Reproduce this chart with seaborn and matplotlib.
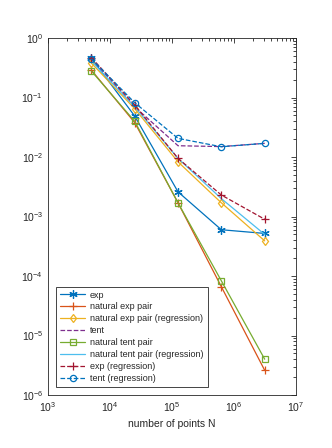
import matplotlib
matplotlib.use("Agg")
import matplotlib.pyplot as plt
import seaborn as sns
import numpy as np
from matplotlib.ticker import LogLocator, NullFormatter

# data
n_points = [5000, 25000, 125000, 625000, 3125000]

exp_err = [0.46, 0.049, 0.0026, 6.0e-4, 5.2e-4]
nat_exp_pair = [0.29, 0.038, 0.0017, 6.6e-5, 2.6e-6]
nat_exp_pair_reg = [0.38, 0.065, 0.0083, 1.7e-3, 3.9e-4]
tent_err = [0.45, 0.07, 0.0155, 0.015, 0.017]
nat_tent_pair = [0.28, 0.040, 0.0017, 8.3e-5, 4.0e-6]
nat_tent_pair_reg = [0.41, 0.07, 0.0095, 2.0e-3, 5.0e-4]
exp_reg = [0.47, 0.075, 0.0095, 2.3e-3, 9.0e-4]
tent_reg = [0.45, 0.082, 0.0206, 0.0149, 0.017]

series = [
    ("exp", exp_err, "#0072BD", (6, 2, 0), "-"),
    ("natural exp pair", nat_exp_pair, "#D95319", "+", "-"),
    ("natural exp pair (regression)", nat_exp_pair_reg, "#EDB120", "d", "-"),
    ("tent", tent_err, "#7E2F8E", None, "--"),
    ("natural tent pair", nat_tent_pair, "#77AC30", "s", "-"),
    ("natural tent pair (regression)", nat_tent_pair_reg, "#4DBEEE", None, "-"),
    ("exp (regression)", exp_reg, "#A2142F", "+", "--"),
    ("tent (regression)", tent_reg, "#0072BD", "o", "--"),
]

sns.set_style("white")
plt.rcParams["font.family"] = ["Liberation Sans", "DejaVu Sans"]

fig = plt.figure(figsize=(3.32, 4.48), dpi=100)
ax = fig.add_axes([0.1446, 0.1183, 0.747, 0.7967])

for label, vals, color, marker, ls in series:
    kw = dict(color=color, linewidth=0.9, linestyle=ls, label=label)
    if ls == "--":
        kw["dashes"] = (6, 4)
    if marker is not None:
        kw["marker"] = marker
        kw["markersize"] = 6 if marker == "+" else (6 if isinstance(marker, tuple) else 4.5)
        kw["markeredgewidth"] = 0.9
        if marker in ("o", "s", "d"):
            kw["markerfacecolor"] = "none"
        kw["markeredgecolor"] = color
    sns.lineplot(x=n_points, y=vals, ax=ax, **kw)

ax.set_xscale("log")
ax.set_yscale("log")
ax.set_xlim(1e3, 1e7)
ax.set_ylim(1e-6, 1e0)

ax.xaxis.set_major_locator(LogLocator(base=10, numticks=10))
ax.yaxis.set_major_locator(LogLocator(base=10, numticks=10))
ax.xaxis.set_minor_locator(LogLocator(base=10, subs=np.arange(2, 10), numticks=20))
ax.yaxis.set_minor_locator(LogLocator(base=10, subs=np.arange(2, 10), numticks=20))
ax.xaxis.set_minor_formatter(NullFormatter())
ax.yaxis.set_minor_formatter(NullFormatter())

ax.tick_params(which="both", direction="in", top=True, right=True,
               colors="#262626", labelsize=7.5, width=0.6)
ax.tick_params(which="major", length=3.5)
ax.tick_params(which="minor", length=2)
for sp in ax.spines.values():
    sp.set_color("#262626")
    sp.set_linewidth(0.6)

ax.set_xlabel("number of points N", fontsize=7.5, color="#262626")

leg = ax.legend(loc="lower left", fontsize=6.5, frameon=True, fancybox=False,
                edgecolor="#262626", framealpha=1, handlelength=2.8,
                handletextpad=0.5, borderaxespad=0.9, labelspacing=0.32,
                borderpad=0.45)
leg.get_frame().set_linewidth(0.6)

fig.savefig("out.png", dpi=100)
